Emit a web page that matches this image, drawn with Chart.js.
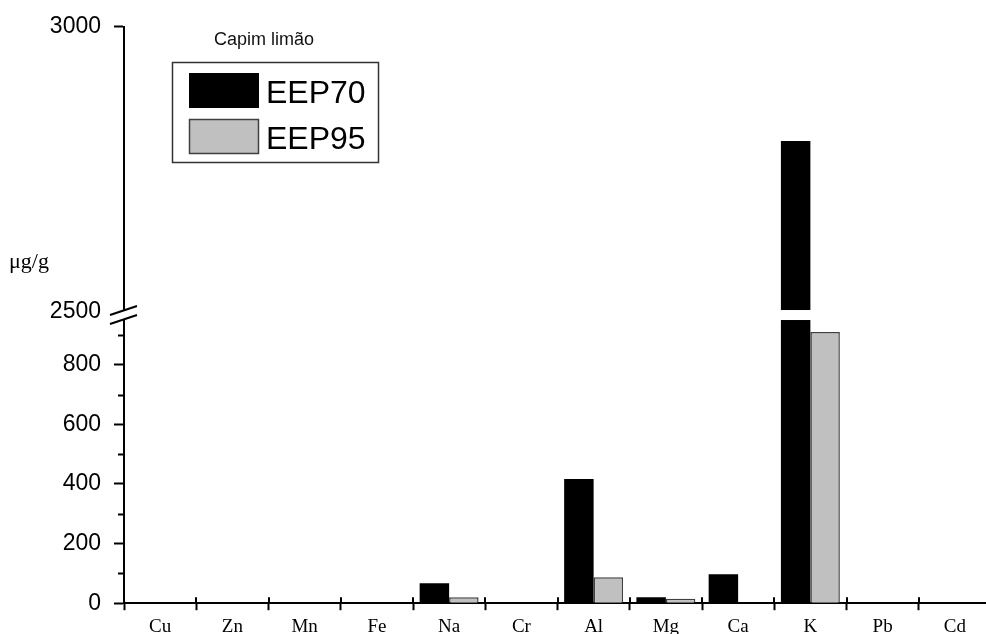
<!DOCTYPE html>
<html>
<head>
<meta charset="utf-8">
<script src="https://cdn.jsdelivr.net/npm/chart.js@4.4.0/dist/chart.umd.min.js"></script>
<style>
  html, body { margin: 0; padding: 0; background: #fff; overflow: hidden; }
  #wrap { position: relative; width: 1000px; height: 643px; }
</style>
</head>
<body>
<div id="wrap"><canvas id="grafico"></canvas></div>
<script>
// dados (ug/g)
const elementos = ['Cu', 'Zn', 'Mn', 'Fe', 'Na', 'Cr', 'Al', 'Mg', 'Ca', 'K', 'Pb', 'Cd']
const series = ['EEP70', 'EEP95']
const eep70 = [0, 0, 0, 0, 67, 0, 417, 20, 97, 2800, 0, 0]
const eep95 = [0, 0, 0, 0, 20, 0, 87, 15, 0, 910, 0, 0]
const ticksBaixo = [0, 200, 400, 600, 800]
const ticksMenores = [100, 300, 500, 700, 900]
const ticksCima = [2500, 3000]
const titulo = 'Capim limão'
const unidade = 'μg/g'

const corte = 977      // topo do segmento de baixo
const inicioCima = 2500
const fimCima = 3000

const sans = '"Liberation Sans", Arial, sans-serif'
const serif = '"Liberation Serif", "Times New Roman", serif'

// so desenha o segmento de cima quando passa do corte
const eep70Cima = eep70.map(v => v >= inicioCima ? v : null)

const semBorda = c => (c.raw ? 1.5 : 0)

// cada dataset fica dentro do seu proprio eixo
const recorte = {
  id: 'recorte',
  beforeDatasetDraw(chart, args) {
    const ds = chart.data.datasets[args.index]
    const s = chart.scales[ds.yAxisID]
    const a = chart.chartArea
    const ctx = chart.ctx
    ctx.save()
    ctx.beginPath()
    ctx.rect(a.left - 2, s.top, a.right - a.left + 4, s.bottom - s.top)
    ctx.clip()
  },
  afterDatasetDraw(chart) {
    chart.ctx.restore()
  }
}

const enfeites = {
  id: 'enfeites',
  afterDraw(chart) {
    const ctx = chart.ctx
    const a = chart.chartArea
    const y = chart.scales.y
    const x = chart.scales.x
    const eixoX = a.left
    const b = y.top

    ctx.save()
    // faixa branca da quebra
    ctx.fillStyle = '#fff'
    ctx.fillRect(a.left + 2, b - 2, a.right - a.left, 10)

    // barras da quebra no eixo
    ctx.beginPath()
    ctx.moveTo(eixoX - 14, b + 3)
    ctx.lineTo(eixoX + 13, b - 6)
    ctx.lineTo(eixoX + 13, b + 3)
    ctx.lineTo(eixoX - 14, b + 12)
    ctx.closePath()
    ctx.fill()
    ctx.strokeStyle = '#000'
    ctx.lineWidth = 2
    ctx.beginPath()
    ctx.moveTo(eixoX - 14, b + 3)
    ctx.lineTo(eixoX + 13, b - 6)
    ctx.moveTo(eixoX - 14, b + 12)
    ctx.lineTo(eixoX + 13, b + 3)
    ctx.stroke()

    // ticks menores
    ctx.beginPath()
    ticksMenores.forEach(v => {
      const py = Math.round(y.getPixelForValue(v)) + 0.5
      ctx.moveTo(eixoX - 6, py)
      ctx.lineTo(eixoX, py)
    })
    ctx.stroke()

    // ticks do eixo x cruzando a linha
    ctx.beginPath()
    for (let i = 0; i <= elementos.length; i++) {
      const px = Math.round(x.getPixelForValue(i - 0.5))
      ctx.moveTo(px, a.bottom - 6)
      ctx.lineTo(px, a.bottom)
    }
    ctx.stroke()

    // unidade
    ctx.fillStyle = '#000'
    ctx.font = '22px ' + serif
    ctx.textAlign = 'left'
    ctx.textBaseline = 'middle'
    ctx.fillText(unidade, 9, 262)

    // legenda
    ctx.font = '18px ' + sans
    ctx.textAlign = 'center'
    ctx.fillStyle = '#111'
    ctx.fillText(titulo, 264, 40)

    ctx.strokeStyle = '#333'
    ctx.lineWidth = 1.5
    ctx.strokeRect(172.5, 62.5, 206, 100)

    const cores = ['#000', '#c0c0c0']
    ctx.font = '32px ' + sans
    ctx.textAlign = 'left'
    ctx.textBaseline = 'alphabetic'
    series.forEach((nome, i) => {
      const top = 73 + i * 46
      ctx.fillStyle = cores[i]
      ctx.fillRect(189, top, 70, 35)
      if (i === 1) {
        ctx.strokeStyle = '#404040'
        ctx.strokeRect(189.5, top + 0.5, 69, 34)
      }
      ctx.fillStyle = '#000'
      ctx.fillText(nome, 266, top + 30)
    })
    ctx.restore()
  }
}

const eixoY = (min, max, valores, escondido, peso) => ({
  type: 'linear',
  position: 'left',
  stack: 'esquerda',
  stackWeight: peso,
  min: min,
  max: max,
  afterBuildTicks: s => { s.ticks = valores.map(v => ({ value: v })) },
  afterFit: s => { s.width = 74 },
  border: { color: '#000', width: 2 },
  grid: {
    drawOnChartArea: false,
    tickLength: 10,
    tickWidth: 2,
    tickColor: c => (c.tick && c.tick.value === escondido ? 'rgba(0,0,0,0)' : '#000')
  },
  ticks: { color: '#000', font: { family: sans, size: 23 }, padding: 13, callback: v => String(v) }
})

const grafico = new Chart(document.querySelector('#grafico'), {
  type: 'bar',
  data: {
    labels: elementos,
    datasets: [
      { label: series[0], data: eep70, yAxisID: 'y', stack: 'a', backgroundColor: '#000', borderWidth: 0 },
      { label: series[1], data: eep95, yAxisID: 'y', stack: 'b', backgroundColor: '#c0c0c0', borderColor: '#404040', borderWidth: semBorda },
      { label: series[0], data: eep70Cima, yAxisID: 'yCima', stack: 'a', backgroundColor: '#000', borderWidth: 0 }
    ]
  },
  options: {
    responsive: true,
    maintainAspectRatio: false,
    animation: false,
    categoryPercentage: 0.816,
    barPercentage: 1.0,
    layout: { padding: { left: 50, top: 23, right: 9, bottom: 0 } },
    plugins: {
      legend: { display: false },
      tooltip: { enabled: false }
    },
    scales: {
      y: eixoY(0, corte, ticksBaixo, null, 293),
      yCima: eixoY(inicioCima, fimCima, ticksCima, inicioCima, 287),
      x: {
        border: { color: '#000', width: 2 },
        grid: { offset: true, drawOnChartArea: false, tickLength: 7, tickWidth: 2, color: '#000' },
        ticks: { color: '#000', font: { family: serif, size: 19 }, padding: 5, autoSkip: false, maxRotation: 0 }
      }
    }
  },
  plugins: [recorte, enfeites]
})
</script>
</body>
</html>
